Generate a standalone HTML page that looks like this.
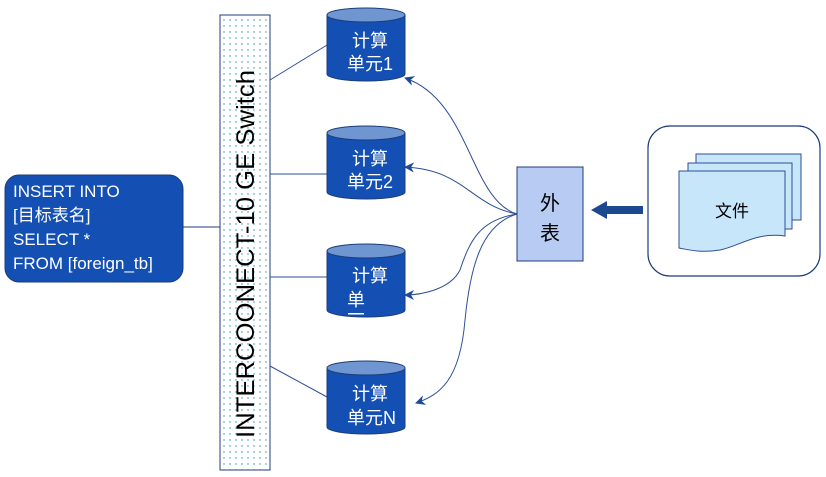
<!DOCTYPE html>
<html><head><meta charset="utf-8"><style>
body{margin:0;background:#fff;}
svg{display:block;font-family:"Liberation Sans","Noto Sans CJK SC",sans-serif;}
</style></head><body>
<svg width="826" height="477" viewBox="0 0 826 477">
<defs>
<pattern id="dots" width="6" height="6" patternUnits="userSpaceOnUse">
<rect width="6" height="6" fill="#fff"/><circle cx="2" cy="2" r="0.7" fill="#2a8fb0"/>
</pattern>
<marker id="ah" markerWidth="10" markerHeight="10" refX="9" refY="5" orient="auto" markerUnits="userSpaceOnUse">
<path d="M0,0 L10,5 L0,10 L3,5 z" fill="#1e4a96"/>
</marker>
<g id="cyl">
<path d="M0,7 L0,66 A39,7 0 0 0 78,66 L78,7" fill="#1450b4" stroke="#1c3c78" stroke-width="1"/>
<ellipse cx="39" cy="7" rx="39" ry="7" fill="#7096d2" stroke="#1c3c78" stroke-width="1"/>
</g>
</defs>
<rect x="5" y="175" width="178" height="107" rx="14" fill="#1450b4" stroke="#1c3c78"/>
<g fill="#fff" font-size="17">
<text x="13" y="197">INSERT INTO</text>
<text x="13" y="221">[目标表名]</text>
<text x="13" y="245">SELECT *</text>
<text x="13" y="269">FROM [foreign_tb]</text>
</g>
<line x1="183" y1="227" x2="220" y2="227" stroke="#1c3c78"/>
<rect x="220" y="15" width="50" height="455" fill="url(#dots)" stroke="#1c3c78"/>
<text transform="translate(254,254) rotate(-90)" text-anchor="middle" font-size="25" fill="#000" textLength="368" lengthAdjust="spacingAndGlyphs">INTERCOONECT-10 GE Switch</text>
<g stroke="#2c4f96" stroke-width="1">
<line x1="270" y1="80" x2="327" y2="45"/>
<line x1="270" y1="174" x2="327" y2="174"/>
<line x1="270" y1="277" x2="327" y2="277"/>
<line x1="270" y1="366" x2="327" y2="397"/>
</g>
<use href="#cyl" x="327" y="8"/>
<use href="#cyl" x="327" y="126"/>
<use href="#cyl" x="327" y="244"/>
<use href="#cyl" x="327" y="361"/>
<g fill="#fff" font-size="18">
<text x="352" y="47">计算</text><text x="347" y="70">单元1</text>
<text x="352" y="165">计算</text><text x="347" y="188">单元2</text>
<text x="352" y="282">计算</text><text x="347" y="306">单</text>
<rect x="348" y="313" width="16" height="1.5" fill="#fff"/>
<text x="352" y="400">计算</text><text x="347" y="424">单元N</text>
</g>
<g fill="none" stroke="#2c4f96" stroke-width="1">
<path d="M517,214 C470,200 470,100 405,78" marker-end="url(#ah)"/>
<path d="M517,214 C470,205 465,170 405,167" marker-end="url(#ah)"/>
<path d="M517,214 C480,220 470,240 460,270 C450,290 420,295 405,295" marker-end="url(#ah)"/>
<path d="M517,214 C480,225 470,270 465,320 C460,380 440,395 416,403" marker-end="url(#ah)"/>
</g>
<rect x="517" y="167" width="66" height="94" fill="#b8cbf2" stroke="#1c3c78"/>
<text x="550" y="210" text-anchor="middle" font-size="20">外</text>
<text x="550" y="240" text-anchor="middle" font-size="20">表</text>
<polygon points="643,206 607,206 607,201 591,210 607,219 607,214 643,214" fill="#1c4890"/>
<rect x="648" y="126" width="172" height="150" rx="22" fill="#fff" stroke="#1c3c78" stroke-width="1.2"/>
<rect x="696" y="154" width="105" height="66" fill="#c8e6fa" stroke="#2c4f96"/>
<rect x="688" y="163" width="104" height="66" fill="#c8e6fa" stroke="#2c4f96"/>
<path d="M679,171 L785,171 L785,236 C755,232 740,246 720,250 C700,253 690,250 679,248 Z" fill="#c8e6fa" stroke="#2c4f96"/>
<text x="732" y="217" text-anchor="middle" font-size="17">文件</text>
</svg>
</body></html>
